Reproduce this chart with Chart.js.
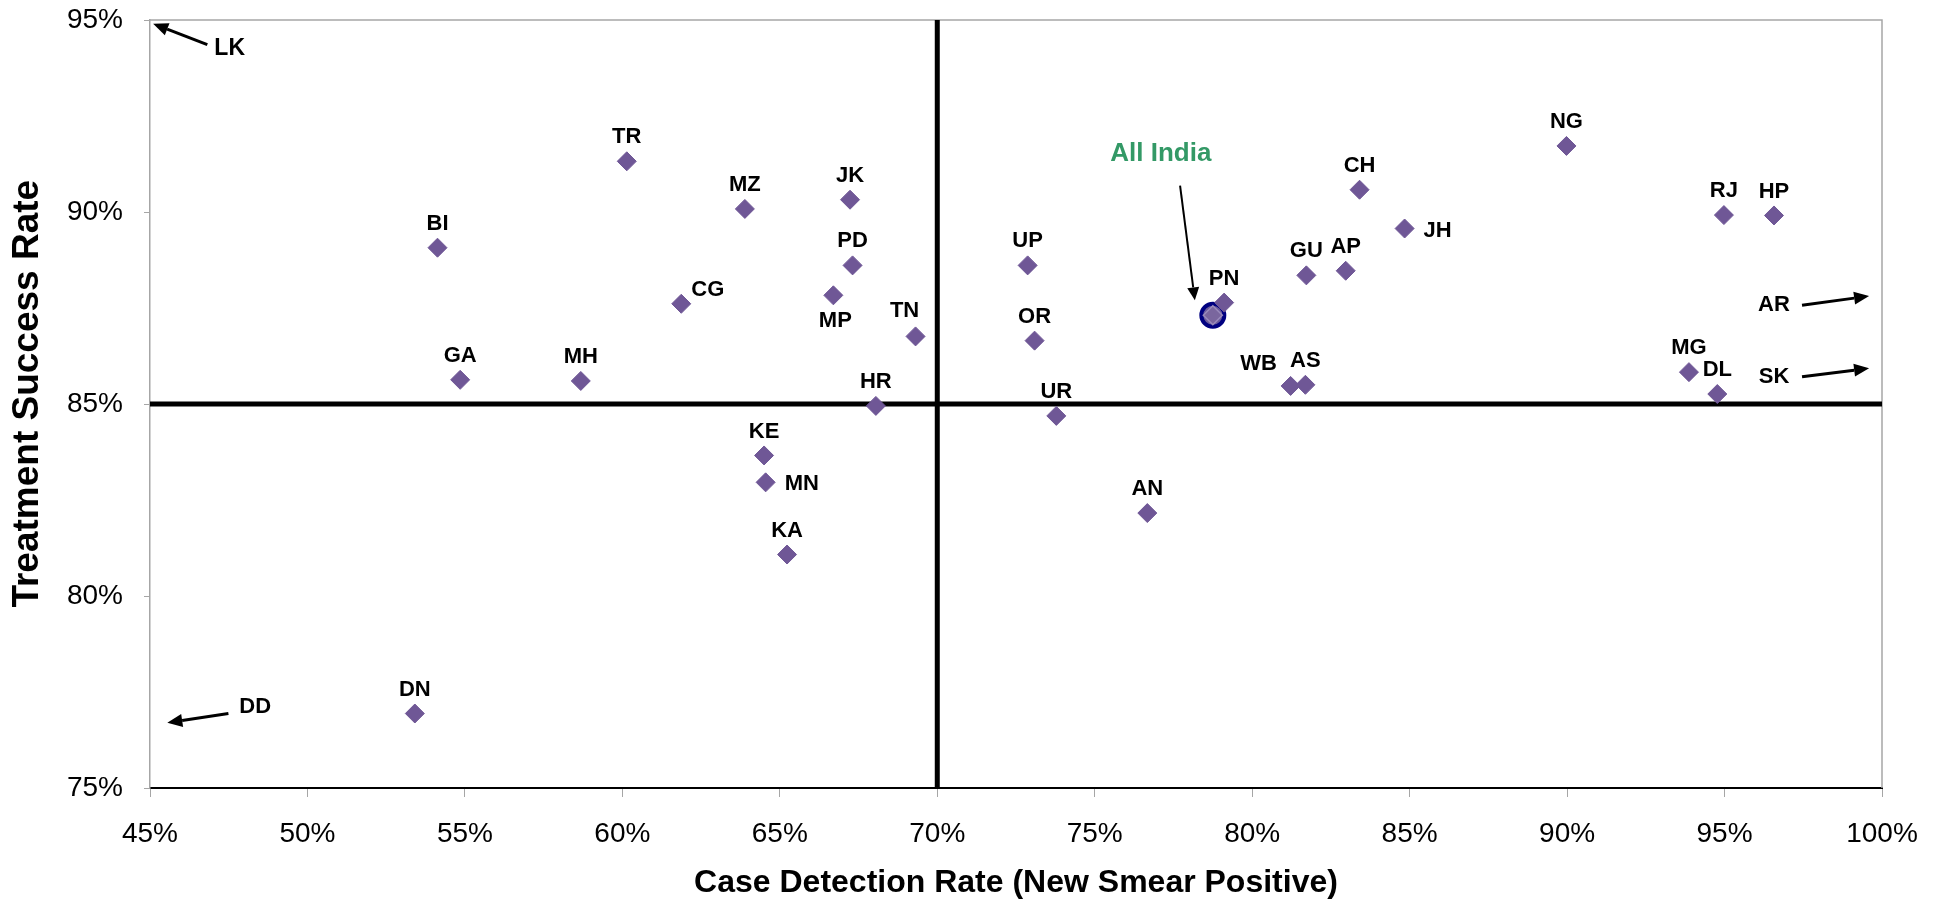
<!DOCTYPE html>
<html>
<head>
<meta charset="utf-8">
<title>Case Detection vs Treatment Success</title>
<script src="https://cdn.jsdelivr.net/npm/chart.js@4.4.1/dist/chart.umd.min.js"></script>
<style>
    html, body { margin: 0; padding: 0; background: #fff; }
    #chart-wrap { width: 1940px; height: 899px; }
</style>
</head>
<body>
<div id="chart-wrap"><canvas id="tb-chart"></canvas></div>
<script>
// State codes with case detection rate (%) and treatment success rate (%)
const stateCodes = ['TR', 'MZ', 'JK', 'BI', 'PD', 'CG', 'MP', 'TN', 'GA', 'MH', 'HR',
    'KE', 'MN', 'KA', 'DN', 'UP', 'OR', 'UR', 'AN', 'PN', 'WB', 'AS', 'GU', 'AP',
    'CH', 'JH', 'NG', 'RJ', 'HP', 'MG', 'DL'];
const caseDetection = [60.14, 63.89, 67.23, 54.13, 67.31, 61.87, 66.70, 69.31, 54.85, 58.68, 68.05,
    64.50, 64.55, 65.23, 53.41, 72.87, 73.09, 73.78, 76.67, 79.11, 81.22, 81.69, 81.72, 82.97,
    83.41, 84.84, 89.98, 94.98, 96.57, 93.87, 94.77];
const treatmentSuccess = [91.32, 90.08, 90.32, 89.07, 88.61, 87.61, 87.83, 86.76, 85.63, 85.60, 84.95,
    83.66, 82.96, 81.08, 76.94, 88.61, 86.65, 84.69, 82.16, 87.64, 85.47, 85.50, 88.35, 88.47,
    90.58, 89.57, 91.72, 89.92, 89.91, 85.83, 85.26];
// where each code sits relative to its marker
const labelPlacement = ['t', 't', 't', 't', 't', 'ne', 'b', 'nw', 't', 't', 't',
    't', 'r', 't', 't', 't', 't', 't', 't', 't', 'w', 't', 't', 't',
    't', 'r', 't', 't', 't', 't', 't'];

// national average
const allIndiaCdr = [78.75];
const allIndiaTsr = [87.31];

// targets drawn as quadrant lines
const targetCdr = 70;
const targetTsr = 85;

// axis ranges (percent)
const xRange = [45, 100];
const yRange = [75, 95];

// states that fall outside the plotted range, shown with arrows
const offChartCodes = ['LK', 'DD', 'AR', 'SK'];

const FONT = "'Liberation Sans', Arial, Helvetica, sans-serif";
const MARKER = '#6F5796';

// text + arrow annotations, in data units
const notes = [
    { text: offChartCodes[0], at: [47.53, 94.25], from: [46.82, 94.36], to: [45.10, 94.90], size: 23, color: '#000', lw: 3 },
    { text: offChartCodes[1], at: [48.34, 77.11], from: [47.49, 76.94], to: [45.55, 76.70], size: 22, color: '#000', lw: 3 },
    { text: offChartCodes[2], at: [96.57, 87.58], from: [97.46, 87.57], to: [99.59, 87.81], size: 22, color: '#000', lw: 3 },
    { text: offChartCodes[3], at: [96.57, 85.71], from: [97.46, 85.71], to: [99.59, 85.93], size: 22, color: '#000', lw: 3 },
    { text: 'All India', at: [77.10, 91.51], from: [77.71, 90.69], to: [78.18, 87.70], size: 26, color: '#339966', lw: 2 }
];

const placementOffsets = {
    t: { dx: 0, dy: -24, align: 'center' },
    b: { dx: 2, dy: 26, align: 'center' },
    r: { dx: 19, dy: 2, align: 'left' },
    ne: { dx: 10, dy: -14, align: 'left' },
    nw: { dx: -11, dy: -25, align: 'center' },
    w: { dx: -32, dy: -22, align: 'center' }
};

const statePoints = caseDetection.map(function(x, i) {
    return { x: x, y: treatmentSuccess[i] };
});
const allIndiaPoints = allIndiaCdr.map(function(x, i) {
    return { x: x, y: allIndiaTsr[i] };
});

// grey frame on the top and right of the plot area
const plotFrame = {
    id: 'plotFrame',
    beforeDatasetsDraw: function(chart) {
        const a = chart.chartArea;
        const ctx = chart.ctx;
        ctx.save();
        ctx.strokeStyle = '#A6A6A6';
        ctx.lineWidth = 1.5;
        ctx.beginPath();
        ctx.moveTo(a.left, a.top);
        ctx.lineTo(a.right, a.top);
        ctx.lineTo(a.right, a.bottom);
        ctx.stroke();
        ctx.restore();
    }
};

// state codes next to each diamond
const stateLabels = {
    id: 'stateLabels',
    afterDatasetsDraw: function(chart) {
        const meta = chart.getDatasetMeta(0);
        const ctx = chart.ctx;
        ctx.save();
        ctx.font = 'bold 22px ' + FONT;
        ctx.fillStyle = '#000';
        ctx.textBaseline = 'middle';
        meta.data.forEach(function(pt, i) {
            const p = placementOffsets[labelPlacement[i]] || placementOffsets.t;
            ctx.textAlign = p.align;
            ctx.fillText(stateCodes[i], pt.x + p.dx, pt.y + p.dy);
        });
        ctx.restore();
    }
};

function drawArrow(ctx, x1, y1, x2, y2, lw) {
    const ang = Math.atan2(y2 - y1, x2 - x1);
    const head = lw > 2 ? 15 : 13;
    const half = lw > 2 ? 6.5 : 6;
    const bx = x2 - head * Math.cos(ang);
    const by = y2 - head * Math.sin(ang);
    ctx.lineWidth = lw;
    ctx.beginPath();
    ctx.moveTo(x1, y1);
    ctx.lineTo(bx, by);
    ctx.stroke();
    ctx.beginPath();
    ctx.moveTo(x2, y2);
    ctx.lineTo(bx + half * Math.sin(ang), by - half * Math.cos(ang));
    ctx.lineTo(bx - half * Math.sin(ang), by + half * Math.cos(ang));
    ctx.closePath();
    ctx.fill();
}

const arrowNotes = {
    id: 'arrowNotes',
    afterDatasetsDraw: function(chart) {
        const xs = chart.scales.x;
        const ys = chart.scales.y;
        const ctx = chart.ctx;
        ctx.save();
        notes.forEach(function(n) {
            ctx.fillStyle = n.color;
            ctx.font = 'bold ' + n.size + 'px ' + FONT;
            ctx.textAlign = 'center';
            ctx.textBaseline = 'middle';
            ctx.fillText(n.text, xs.getPixelForValue(n.at[0]), ys.getPixelForValue(n.at[1]));
            ctx.fillStyle = '#000';
            ctx.strokeStyle = '#000';
            drawArrow(ctx,
                xs.getPixelForValue(n.from[0]), ys.getPixelForValue(n.from[1]),
                xs.getPixelForValue(n.to[0]), ys.getPixelForValue(n.to[1]), n.lw);
        });
        ctx.restore();
    }
};

new Chart(document.getElementById('tb-chart'), {
    type: 'scatter',
    data: {
        datasets: [
            {
                label: 'States',
                data: statePoints,
                pointStyle: 'rectRot',
                pointRadius: 9.5,
                backgroundColor: MARKER,
                borderColor: MARKER,
                borderWidth: 1,
                order: 1
            },
            {
                label: 'All India',
                data: allIndiaPoints,
                pointStyle: 'rectRot',
                pointRadius: 9.5,
                backgroundColor: '#7A669E',
                borderColor: '#9A8BBB',
                borderWidth: 1.5,
                order: 1
            },
            {
                label: 'All India ring',
                data: allIndiaPoints,
                pointStyle: 'circle',
                pointRadius: 11.5,
                backgroundColor: '#6A5A9A',
                borderColor: '#000080',
                borderWidth: 4,
                order: 2
            },
            {
                label: 'CDR target',
                type: 'line',
                data: [{ x: targetCdr, y: yRange[0] }, { x: targetCdr, y: yRange[1] }],
                borderColor: '#000',
                borderWidth: 5,
                pointRadius: 0,
                order: 3
            },
            {
                label: 'TSR target',
                type: 'line',
                data: [{ x: xRange[0], y: targetTsr }, { x: xRange[1], y: targetTsr }],
                borderColor: '#000',
                borderWidth: 5,
                pointRadius: 0,
                order: 3
            }
        ]
    },
    options: {
        responsive: true,
        maintainAspectRatio: false,
        animation: false,
        devicePixelRatio: 1,
        layout: {
            padding: { top: 0, right: 58, left: 0, bottom: 0 }
        },
        plugins: {
            legend: { display: false },
            tooltip: { enabled: false }
        },
        scales: {
            x: {
                type: 'linear',
                min: xRange[0],
                max: xRange[1],
                afterFit: function(scale) { scale.height = 111; },
                border: { display: true, color: '#000', width: 2 },
                grid: { drawOnChartArea: false, drawTicks: true, tickLength: 9, color: '#A6A6A6' },
                ticks: {
                    stepSize: 5,
                    padding: 20,
                    color: '#000',
                    font: { family: FONT, size: 28 },
                    callback: function(v) { return v + '%'; }
                },
                title: {
                    display: true,
                    text: 'Case Detection Rate (New Smear Positive)',
                    color: '#000',
                    font: { family: FONT, size: 32, weight: 'bold', lineHeight: 1.0 },
                    padding: { top: 0, bottom: 0 }
                }
            },
            y: {
                type: 'linear',
                min: yRange[0],
                max: yRange[1],
                afterFit: function(scale) {
                    scale.width = 150;
                    scale.paddingTop = 20;
                    scale.paddingBottom = 14;
                },
                border: { display: true, color: '#A6A6A6', width: 1.5 },
                grid: { drawOnChartArea: false, drawTicks: true, tickLength: 6, color: '#A6A6A6' },
                ticks: {
                    stepSize: 5,
                    padding: 21,
                    color: '#000',
                    font: { family: FONT, size: 28, lineHeight: 1.0 },
                    callback: function(v) { return v + '%'; }
                },
                title: {
                    display: true,
                    text: '  Treatment Success Rate',
                    color: '#000',
                    font: { family: FONT, size: 37, weight: 'bold', lineHeight: 1.0 },
                    padding: { top: 9, bottom: 0 }
                }
            }
        }
    },
    plugins: [plotFrame, stateLabels, arrowNotes]
});
</script>
</body>
</html>
